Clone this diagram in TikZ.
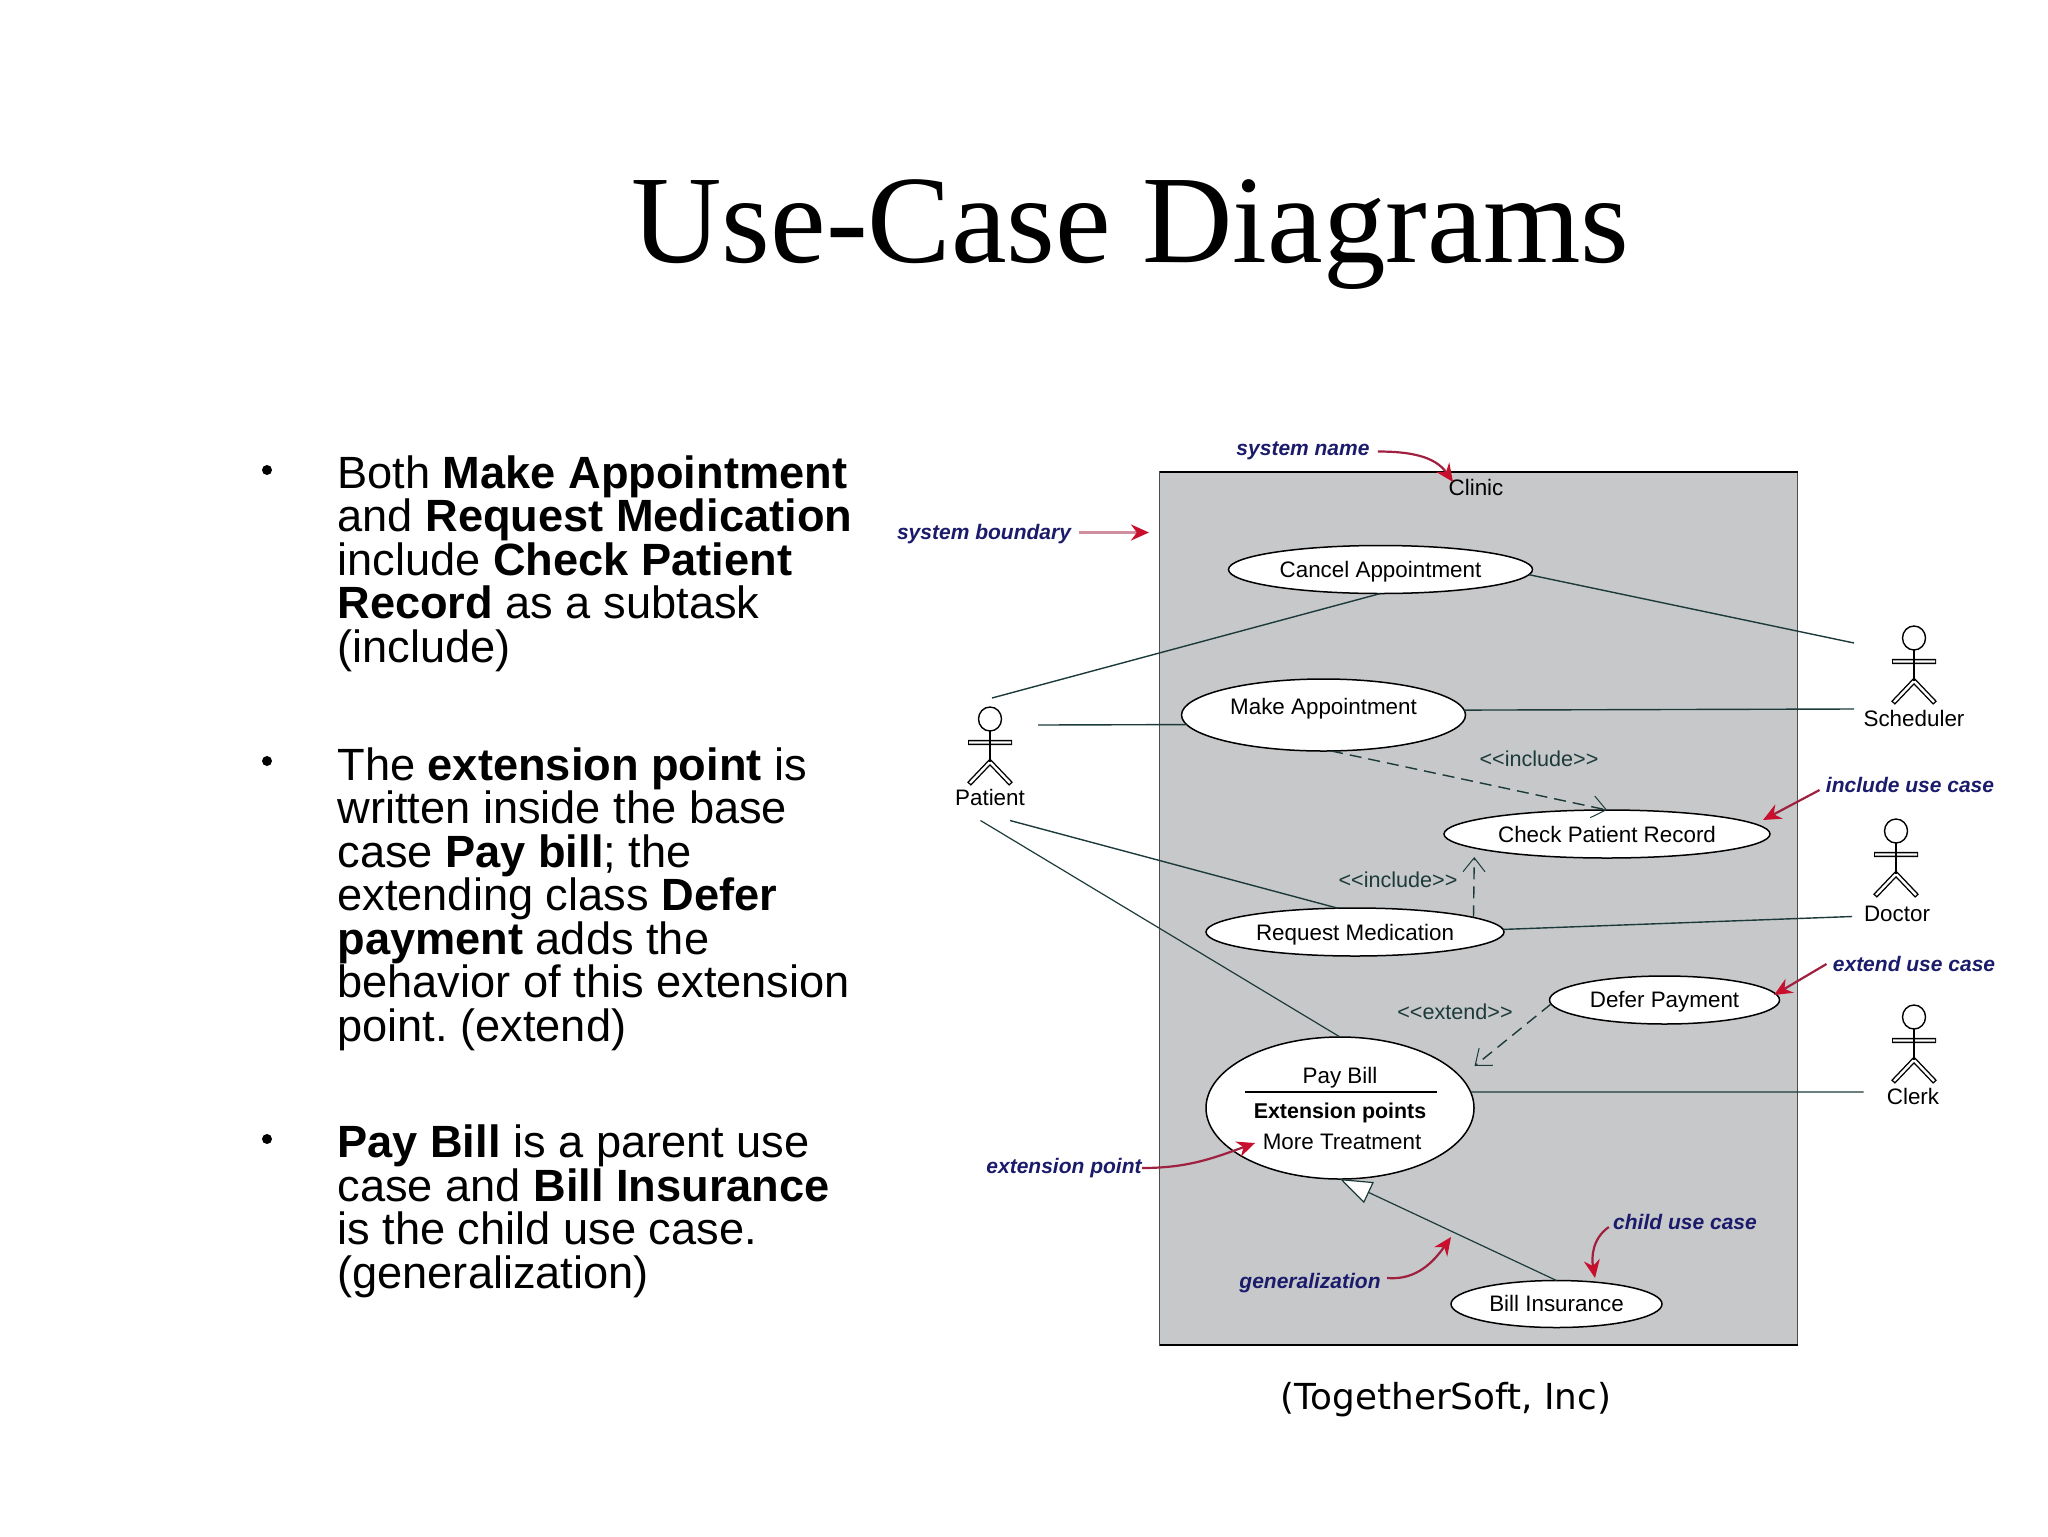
\documentclass[tikz,border=0pt]{standalone}
\usepackage{fontspec}
\setmainfont{Liberation Sans}
\newfontfamily\titlefont{Liberation Serif}
\newfontfamily\creditfont{DejaVu Sans}
\usetikzlibrary{shapes.geometric,arrows.meta}
\definecolor{sysgray}{HTML}{C7C8CA}
\definecolor{linkcol}{HTML}{1C3A3A}
\definecolor{notecol}{HTML}{1B1B6B}
\definecolor{notered}{HTML}{C8102E}
\definecolor{tailred}{HTML}{A02040}
% text in a use case: #1 is the baseline offset from the ellipse centre
\newcommand{\uctext}[2]{\raisebox{#1}[0pt][0pt]{#2}}
\tikzset{
  usecase/.style={ellipse,draw=black,fill=white,line width=0.75pt,inner sep=0pt,outer sep=0pt,font=\fontsize{11.2}{11.2}\selectfont},
  assoc/.style={draw=linkcol,line width=0.7pt},
  dep/.style={assoc,dash pattern=on 6pt off 3.5pt,-{Straight Barb[length=7pt,width=11pt,line width=0.5pt]}},
  gener/.style={draw=linkcol,line width=0.6pt,-{Triangle[open,fill=white,length=16pt,width=11.5pt,line width=0.6pt]}},
  stereo/.style={font=\fontsize{10.8}{10.8}\selectfont,text=linkcol,inner sep=0pt},
  plain/.style={font=\fontsize{11.2}{11.2}\selectfont,inner sep=0pt},
  note/.style={font=\fontsize{10.5}{10.5}\selectfont\bfseries\itshape,text=notecol,inner sep=0pt},
  notearrow/.style={draw=tailred,line width=1.1pt,-{Stealth[length=9pt,width=8pt,fill=notered,color=notered]}},
  body/.style={font=\fontsize{22.6}{21.75}\selectfont\frenchspacing,align=left,anchor=base west,inner sep=0pt},
  dot/.style={circle,fill=black,inner sep=0pt,minimum size=5pt},
  actor/.pic={
    \draw[line width=0.7pt] (0,0) ellipse (11.5 and 12);
    \draw[line width=2.6pt] (-22,23.5) -- (22,23.5) (-21,65) -- (0,43) -- (21,65);
    \draw[line width=1.2pt,white] (-21,23.5) -- (21,23.5) (-20,64) -- (0,43) -- (20,64);
    \draw[line width=1.2pt] (0,12) -- (0,43);
  }
}
\begin{document}
\begin{tikzpicture}[x=0.5pt,y=-0.5pt]
  \useasboundingbox (0,0) rectangle (2048,1536);

  % title and bullets
  \node[font=\fontsize{62.6}{62.6}\selectfont\titlefont,anchor=base west,inner sep=0pt] (title) at (631,262) {Use-Case Diagrams};
  \node[dot] (b1) at (267,470) {};
  \node[dot] (b2) at (267,761) {};
  \node[dot] (b3) at (267,1139) {};
  \node[body] (t1) at (337,662) {Both \textbf{Make Appointment}\\and \textbf{Request Medication}\\include \textbf{Check Patient}\\\textbf{Record} as a subtask\\(include)};
  \node[body] (t2) at (337,1041) {The \textbf{extension point} is\\written inside the base\\case \textbf{Pay bill}; the\\extending class \textbf{Defer}\\\textbf{payment} adds the\\behavior of this extension\\point. (extend)};
  \node[body] (t3) at (337,1288) {\textbf{Pay Bill} is a parent use\\case and \textbf{Bill Insurance}\\is the child use case.\\(generalization)};

  % system box
  \node[fill=sysgray,draw=black!70,line width=0.6pt,minimum width=319pt,minimum height=436.5pt,inner sep=0pt,outer sep=0pt] (sys) at (1478.5,908.5) {};
  \draw[line width=1.1pt] (sys.north west) -- (sys.north east);
  \draw[line width=1.1pt] (sys.south west) -- (sys.south east);
  \node[plain] (clinic) at (1476,487) {Clinic};

  % use cases
  \node[usecase,minimum width=152pt,minimum height=24pt] (cancel) at (1380.5,569.5) {\uctext{-4.2pt}{Cancel Appointment}};
  \node[usecase,minimum width=142pt,minimum height=36pt] (make) at (1323.5,715) {\uctext{0.3pt}{Make Appointment}};
  \node[usecase,minimum width=163pt,minimum height=24pt] (check) at (1607,834) {\uctext{-4pt}{Check Patient Record}};
  \node[usecase,minimum width=149pt,minimum height=24pt] (request) at (1355,932) {\uctext{-4.2pt}{Request Medication}};
  \node[usecase,minimum width=115pt,minimum height=24pt] (defer) at (1664.5,1000) {\uctext{-3.6pt}{Defer Payment}};
  \node[usecase,minimum width=134pt,minimum height=71pt] (pay) at (1340,1108) {};
  \node[usecase,minimum width=105.5pt,minimum height=23.5pt] (bill) at (1556.5,1304) {\uctext{-3.9pt}{Bill Insurance}};
  \node[plain] (paytitle) at (1340,1077.5) {Pay Bill};
  \draw[line width=0.9pt] (1245,1092) -- (1437,1092);
  \node[plain,font=\fontsize{10.7}{10.7}\selectfont\bfseries] (payext) at (1340,1113) {Extension points};
  \node[plain] (paymore) at (1342,1142) {More Treatment};

  % actors
  \pic at (990,719) {actor};
  \pic at (1914,638) {actor};
  \pic at (1896,831) {actor};
  \pic at (1914,1017) {actor};
  \node[plain] (patient) at (990,797.5) {Patient};
  \node[plain] (scheduler) at (1914,718.5) {Scheduler};
  \node[plain] (doctor) at (1897,913.5) {Doctor};
  \node[plain] (clerk) at (1913,1096) {Clerk};

  % free ends next to the actors
  \coordinate (patup) at (992,698);
  \coordinate (patright) at (1038,725);
  \coordinate (patdownr) at (1010,820.5);
  \coordinate (patdownl) at (980.5,820.5);
  \coordinate (schedup) at (1854,643);
  \coordinate (schedleft) at (1854,709);
  \coordinate (docleft) at (1852,916.5);
  \coordinate (clerkleft) at (1863.5,1092);
  \coordinate (exttip) at (1474.5,1066);

  \draw[assoc] (patup) -- (cancel.south);
  \draw[assoc] (cancel.-2) -- (schedup);
  \draw[assoc] (patright) -- (make.184);
  \draw[assoc] (make.2) -- (schedleft);
  \draw[assoc] (patdownr) -- (request.126);
  \draw[assoc,line width=0.6pt] (patdownl) -- (pay.north);
  \draw[assoc] (request.1) -- (docleft);
  \draw[assoc] (pay.7) -- (clerkleft);
  \draw[dep] (make.-78) -- (check.north);
  \draw[dep,shorten >=4.5pt] (request.7) -- (check.186);
  \draw[dep] (defer.182) -- (exttip);
  \draw[gener] (bill.north) -- (pay.south);
  \node[stereo] (inc1) at (1539,758.5) {<{}<include>{}>};
  \node[stereo] (inc2) at (1398,879.5) {<{}<include>{}>};
  \node[stereo] (ext) at (1455,1012) {<{}<extend>{}>};

  % annotations
  \node[note] (nname) at (1303,450.5) {system name};
  \node[note] (nbound) at (984,534.5) {system boundary};
  \node[note] (ninc) at (1910,785) {include use case};
  \node[note] (next) at (1914,964) {extend use case};
  \node[note] (npoint) at (1064,1168) {extension point};
  \node[note] (ngen) at (1310,1283) {generalization};
  \node[note] (nchild) at (1685,1222) {child use case};
  \coordinate (boundtip) at (1149,532.5);
  \coordinate (inctip) at (1763,820);
  \coordinate (exttarget) at (1774,995);
  \coordinate (pointtip) at (1255,1143);
  \coordinate (gentip) at (1451,1237);
  \coordinate (childtip) at (1595,1278);
  \coordinate (nametip) at (1453,482);
  \draw[notearrow] ([shift={(4pt,-0.5pt)}]nname.east) to[out=0,in=125] (nametip);
  \draw[notearrow,draw=tailred!50,line width=1.5pt] ([shift={(4pt,1pt)}]nbound.east) -- (boundtip);
  \draw[notearrow] ([shift={(-3pt,-2.5pt)}]ninc.west) -- (inctip);
  \draw[notearrow] ([xshift=-3pt]next.west) -- (exttarget);
  \draw[notearrow] (npoint.east) to[out=0,in=200] (pointtip);
  \draw[notearrow] ([shift={(3pt,2.5pt)}]ngen.east) to[out=-5,in=235] (gentip);
  \draw[notearrow] ([shift={(-2pt,-2.5pt)}]nchild.west) to[out=215,in=100] (childtip);

  \node[font=\fontsize{17.9}{17.9}\selectfont\creditfont,inner sep=0pt] (credit) at (1446,1399.5) {(TogetherSoft, Inc)};
\end{tikzpicture}
\end{document}
